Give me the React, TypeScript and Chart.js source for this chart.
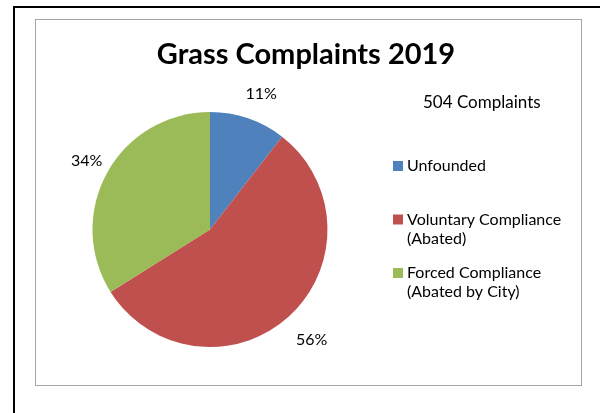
import React, { useEffect, useRef } from "react";
import { Chart, registerables } from "chart.js";

Chart.register(...registerables);

const chartTitle = "Grass Complaints 2019";
const subtitle = "504 Complaints";
const categories = ["Unfounded", "Voluntary Compliance (Abated)", "Forced Compliance (Abated by City)"];
const legendLines = [["Unfounded"], ["Voluntary Compliance", "(Abated)"], ["Forced Compliance", "(Abated by City)"]];
const values = [53, 280, 171];
const colors = ["#4F81BD", "#C0504D", "#9BBB59"];

const FONT = "Lato, 'Noto Sans', sans-serif";

const decorPlugin = {
  id: "decor",
  beforeDraw(chart: any) {
    const ctx = chart.ctx;
    ctx.save();
    ctx.fillStyle = "#ffffff";
    ctx.fillRect(0, 0, chart.width, chart.height);
    ctx.strokeStyle = "#000000";
    ctx.lineWidth = 2;
    ctx.beginPath();
    ctx.moveTo(14, 420);
    ctx.lineTo(14, 7);
    ctx.lineTo(602, 7);
    ctx.stroke();
    ctx.strokeStyle = "#a6a6a6";
    ctx.lineWidth = 1;
    ctx.strokeRect(35.5, 19.5, 546, 366);
    ctx.restore();
  },
  afterDraw(chart: any) {
    const ctx = chart.ctx;
    ctx.save();
    ctx.fillStyle = "#000000";
    ctx.font = `bold 29px ${FONT}`;
    ctx.textAlign = "center";
    ctx.textBaseline = "alphabetic";
    ctx.fillText(chartTitle, 306, 64);
    ctx.font = `17px ${FONT}`;
    ctx.textAlign = "left";
    ctx.fillText(subtitle, 423, 108);
    ctx.font = `16px ${FONT}`;
    legendLines.forEach((lines, i) => {
      const base = 171 + i * 53.5;
      ctx.fillStyle = colors[i];
      ctx.fillRect(393, base - 10, 10, 10);
      ctx.fillStyle = "#000000";
      lines.forEach((ln, j) => {
        ctx.fillText(ln, 407, base + j * 19);
      });
    });
    const meta = chart.getDatasetMeta(0);
    const total = values.reduce((a, b) => a + b, 0);
    ctx.font = `16px ${FONT}`;
    ctx.textAlign = "center";
    ctx.textBaseline = "middle";
    meta.data.forEach((arc: any, i: number) => {
      const { x, y, startAngle, endAngle, outerRadius } = arc.getProps(
        ["x", "y", "startAngle", "endAngle", "outerRadius"],
        true
      );
      const mid = (startAngle + endAngle) / 2;
      const r = outerRadius + 28;
      const pct = Math.round((values[i] / total) * 100) + "%";
      ctx.fillText(pct, x + Math.cos(mid) * r + 4, y + Math.sin(mid) * r + 2);
    });
    ctx.restore();
  },
};

export default function App() {
  const ref = useRef<HTMLCanvasElement>(null);
  useEffect(() => {
    if (!ref.current) return;
    const chart = new Chart(ref.current, {
      type: "pie",
      data: {
        labels: categories,
        datasets: [
          {
            data: values,
            backgroundColor: colors,
            borderWidth: 0,
          },
        ],
      },
      options: {
        responsive: false,
        animation: false,
        layout: { padding: { left: 92, right: 272, top: 112, bottom: 66 } },
        plugins: {
          legend: { display: false },
          tooltip: { enabled: false },
          title: { display: false },
        },
      },
      plugins: [decorPlugin],
    });
    return () => chart.destroy();
  }, []);
  return (
    <div style={{ position: "fixed", left: 0, top: 0, width: 600, height: 413 }}>
      <canvas ref={ref} width={600} height={413} style={{ width: 600, height: 413 }} />
    </div>
  );
}
